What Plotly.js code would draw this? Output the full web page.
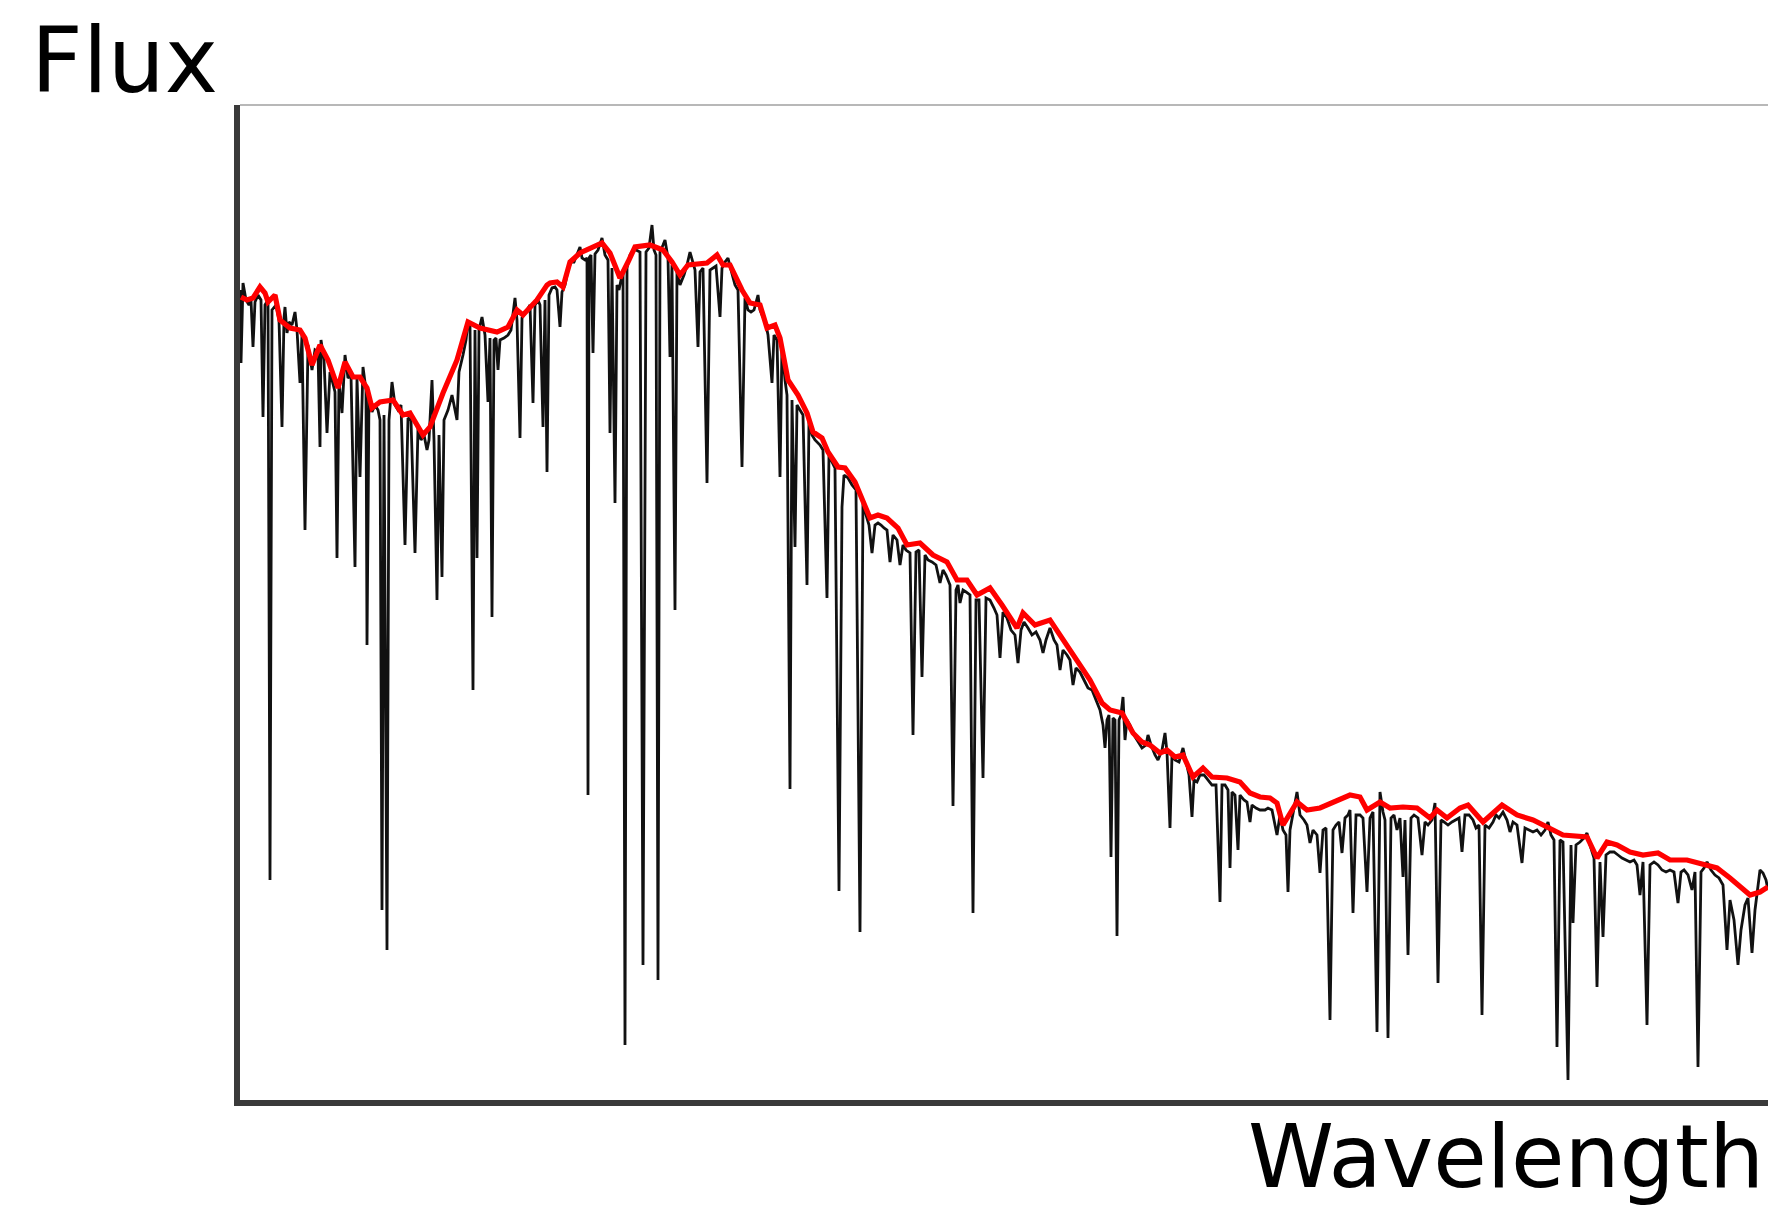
<!DOCTYPE html>
<html>
<head>
<meta charset="utf-8">
<script src="https://cdn.plot.ly/plotly-3.0.1.min.js"></script>
<style>html,body{margin:0;padding:0;background:#fff;}#chart{width:1768px;height:1208px;}</style>
</head>
<body>
<div id="chart"></div>
<script>
// Observed spectrum (arbitrary wavelength units, arbitrary flux units)
const specWavelength = [
0,1,3,6,9,11,13,15,18,21,23,25,28,30,32,36,39,42,44,45,
47,49,52,55,57,60,62,65,68,72,75,78,80,81,84,87,90,93,95,97,
99,102,105,108,111,115,117,120,123,126,127,129,132,135,138,140,142,144,147,149,
152,155,158,161,165,168,171,175,178,181,184,187,189,192,194,197,199,202,204,208,
212,217,219,223,226,228,230,233,235,237,239,242,245,248,250,252,254,256,258,260,
264,268,271,275,277,280,282,286,290,293,295,298,300,303,305,307,309,312,315,317,
320,322,325,328,331,334,337,340,342,345,347,348,349,351,353,355,358,362,365,368,
370,372,375,377,379,381,383,385,387,390,393,396,400,403,406,409,412,414,416,418,
420,423,425,428,430,432,435,437,440,444,447,450,452,455,458,460,463,467,470,473,
476,480,482,485,488,491,495,498,502,505,508,511,514,518,520,522,525,528,532,534,
537,540,542,545,547,550,552,555,557,560,563,567,569,572,575,580,583,587,589,592,
595,599,602,604,608,612,616,620,623,626,629,632,635,638,641,644,647,650,653,657,
660,663,666,670,673,676,679,682,685,688,692,696,700,703,706,710,713,716,718,720,
723,726,730,733,736,739,743,746,750,754,757,760,763,767,771,775,778,781,784,788,
792,796,800,803,806,810,814,817,820,823,827,830,833,836,840,844,848,852,856,860,
863,865,867,869,871,873,875,877,879,881,883,885,887,890,894,898,902,906,908,911,
915,918,922,925,927,930,932,935,939,943,946,949,952,954,957,960,964,968,972,976,
980,982,985,988,990,992,995,998,1000,1004,1007,1010,1012,1016,1020,1025,1028,1032,1037,1040,
1043,1046,1048,1050,1053,1057,1060,1064,1067,1070,1073,1077,1080,1083,1086,1090,1093,1096,1099,1102,
1105,1108,1110,1113,1116,1120,1123,1127,1130,1133,1137,1140,1143,1145,1148,1151,1154,1157,1160,1163,
1165,1168,1171,1174,1178,1182,1185,1188,1192,1195,1198,1201,1204,1208,1212,1216,1219,1222,1225,1229,
1233,1236,1239,1242,1245,1249,1253,1256,1259,1263,1267,1270,1273,1277,1282,1285,1289,1293,1297,1301,
1305,1308,1311,1314,1317,1320,1323,1328,1331,1333,1336,1340,1344,1347,1350,1354,1357,1360,1363,1366,
1370,1374,1378,1382,1386,1390,1394,1397,1400,1403,1407,1410,1414,1418,1422,1426,1430,1434,1438,1441,
1444,1448,1452,1455,1458,1461,1464,1467,1471,1475,1479,1483,1487,1490,1494,1498,1501,1505,1508,1512,
1515,1518,1520,1523,1526,1528
];
const specFlux = [
810,737,817,800,795,800,753,798,805,800,683,795,800,220,790,795,780,673,782,793,
767,778,775,788,770,717,765,570,755,730,750,748,653,760,740,667,728,715,708,542,
720,687,745,722,725,533,722,623,733,710,455,705,688,695,690,680,190,685,150,680,
718,695,690,695,555,682,680,547,672,660,665,650,660,720,660,500,665,523,680,690,
705,680,728,745,760,778,775,410,770,542,770,783,765,698,762,483,760,762,730,760,
762,765,770,802,780,662,782,788,795,697,795,800,795,673,800,628,805,812,813,810,
773,808,815,830,838,838,845,853,842,840,842,305,842,845,747,846,850,862,845,840,
667,832,597,815,810,820,830,55,832,845,850,850,848,135,848,852,875,850,845,120,
848,855,860,842,743,835,490,830,815,825,835,848,840,830,753,828,832,617,830,832,
834,783,832,838,842,830,815,810,633,802,790,788,790,805,790,785,780,765,717,765,
760,623,755,720,705,311,700,553,695,690,685,515,680,665,660,655,650,502,645,638,
632,209,593,625,622,615,610,168,600,585,575,547,575,577,575,572,570,538,565,560,
535,555,550,547,365,548,550,423,545,540,538,535,517,530,525,515,294,510,515,497,
510,508,505,187,500,500,322,502,500,492,485,442,488,482,470,465,437,470,478,472,
465,468,460,447,460,472,460,455,430,450,445,440,415,432,428,420,412,410,400,390,
375,352,380,385,243,382,380,164,380,385,403,360,380,375,365,358,352,355,365,355,
345,340,350,367,348,272,345,340,338,352,340,325,283,320,318,325,325,320,315,315,
198,315,315,310,232,308,305,250,305,300,298,278,295,292,290,290,292,290,265,285,
270,265,208,270,288,308,285,280,275,257,270,265,227,270,272,80,270,275,278,247,
282,285,290,187,285,285,282,208,282,288,68,308,288,280,62,282,285,270,282,223,
280,145,282,285,282,245,278,275,280,297,117,280,278,275,278,280,282,248,285,285,
280,272,275,85,275,272,278,285,282,288,280,268,278,275,237,272,270,268,270,265,
270,278,265,260,53,260,258,20,255,177,255,258,262,267,255,242,113,238,163,245,
248,248,245,242,240,238,240,235,205,238,75,235,238,235,230,228,230,228,197,228,
230,225,210,228,33,228,232,238,230,225,222,215,150,200,180,135,170,195,202,147,
190,215,230,227,220,210
];

// Fitted continuum
const contWavelength = [
1,7,13,20,25,28,35,40,50,60,65,72,80,88,98,105,113,120,127,132,
140,153,163,170,183,190,203,217,228,240,257,268,277,283,297,307,310,317,323,330,
340,362,370,380,388,395,410,423,432,440,448,467,477,483,490,502,510,520,527,535,
540,548,558,567,573,582,588,598,605,615,630,638,647,658,667,680,693,707,717,727,
737,750,762,777,783,795,810,823,837,850,862,870,882,893,902,910,920,927,935,943,
953,963,972,987,1000,1010,1020,1030,1037,1043,1057,1067,1080,1097,1110,1120,1127,1140,1150,1163,
1177,1190,1197,1207,1220,1228,1243,1262,1277,1293,1310,1323,1347,1357,1367,1377,1390,1403,1418,1430,
1447,1457,1467,1477,1490,1500,1510,1520,1528
];
const contFlux = [
803,800,802,813,807,798,805,780,772,770,762,735,755,740,712,738,723,723,712,692,
698,700,685,687,665,673,707,740,778,772,768,773,790,785,800,815,817,818,813,838,
847,857,847,822,838,853,855,850,838,825,835,837,845,835,835,810,797,795,772,775,
762,720,705,687,668,662,648,633,632,618,582,585,582,572,555,557,545,538,520,520,
505,512,495,472,487,475,480,460,440,420,397,390,387,367,358,355,347,350,343,345,
323,332,323,322,318,307,303,302,297,275,298,290,292,300,305,303,290,298,292,293,
292,282,290,282,292,295,278,295,285,280,272,265,263,242,258,255,248,245,247,240,
240,237,235,232,222,213,205,208,213
];

const xLabel = 'Wavelength';
const yLabel = 'Flux';

const traces = [
  {x: specWavelength, y: specFlux, type: 'scatter', mode: 'lines',
   line: {color: '#111111', width: 2.8}, hoverinfo: 'skip'},
  {x: contWavelength, y: contFlux, type: 'scatter', mode: 'lines',
   line: {color: '#ff0000', width: 5.2}, hoverinfo: 'skip'}
];

const axisBase = {showline: true, linecolor: '#3a3a3a', linewidth: 6, showgrid: false,
  zeroline: false, showticklabels: false, ticks: '', fixedrange: true};

const layout = {
  width: 1768, height: 1208,
  margin: {l: 240, r: 0, t: 105, b: 108, pad: 0},
  paper_bgcolor: '#ffffff', plot_bgcolor: '#ffffff',
  showlegend: false,
  xaxis: Object.assign({range: [0, 1528]}, axisBase),
  yaxis: Object.assign({range: [0, 995]}, axisBase),
  shapes: [{type: 'line', xref: 'paper', yref: 'paper', x0: 0, x1: 1, y0: 1, y1: 1,
            line: {color: '#a0a0a0', width: 1.5}}],
  annotations: [
    {text: yLabel, xref: 'paper', yref: 'paper', x: -0.1381, y: 1.045,
     xanchor: 'left', yanchor: 'middle', showarrow: false,
     font: {family: 'DejaVu Sans', size: 90, color: '#000'}},
    {text: xLabel, xref: 'paper', yref: 'paper', x: 0.999, y: -0.0573,
     xanchor: 'right', yanchor: 'middle', showarrow: false,
     font: {family: 'DejaVu Sans', size: 87, color: '#000'}}
  ]
};

Plotly.newPlot('chart', traces, layout, {staticPlot: true, displayModeBar: false});
</script>
</body>
</html>
